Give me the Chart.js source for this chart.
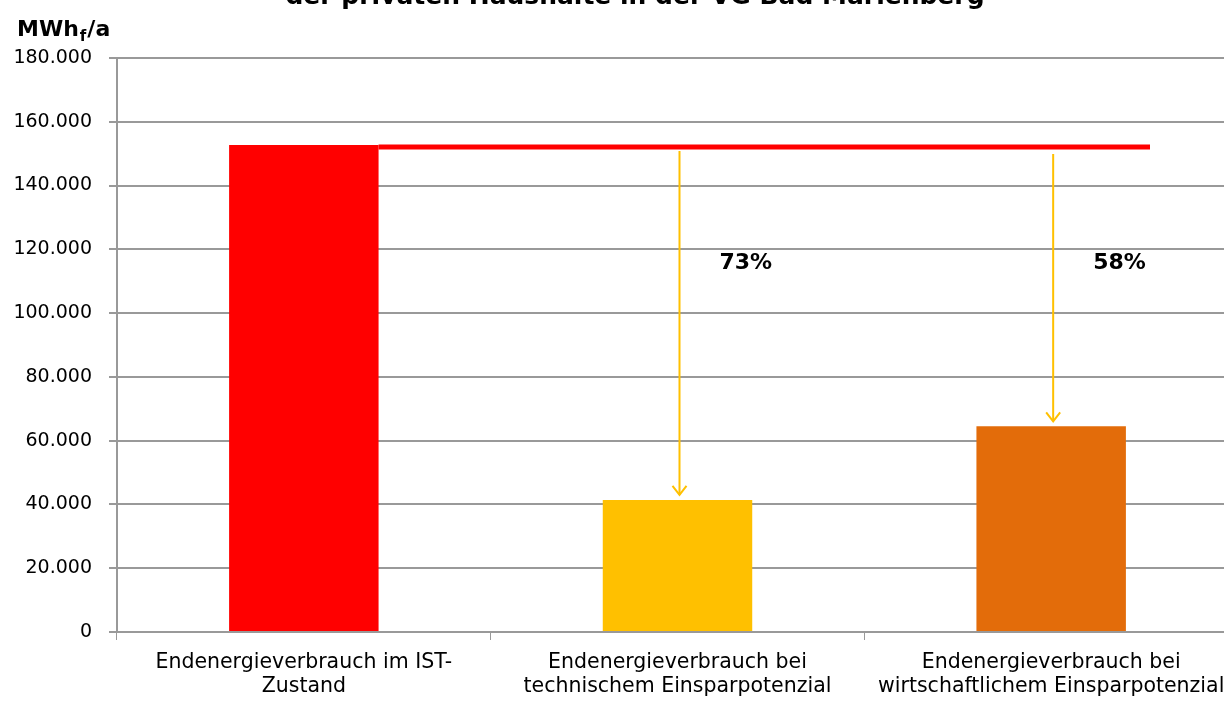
<!DOCTYPE html>
<html lang="de">
<head>
<meta charset="utf-8">
<title>Endenergieverbrauch private Haushalte</title>
<script src="https://cdn.jsdelivr.net/npm/chart.js@4.4.1/dist/chart.umd.min.js"></script>
<style>
  html, body { margin: 0; padding: 0; background: #fff; overflow: hidden; }
  #wrap { width: 1224px; height: 702px; position: relative; overflow: hidden; }
</style>
</head>
<body>
<div id="wrap"><canvas id="chartEnergie" width="1238" height="702"></canvas></div>
<script>
// --- Daten ---
const kategorien = [
  ['Endenergieverbrauch im IST-', 'Zustand'],
  ['Endenergieverbrauch bei', 'technischem Einsparpotenzial'],
  ['Endenergieverbrauch bei', 'wirtschaftlichem Einsparpotenzial']
];
const verbrauch = [152700, 41400, 64500];          // MWh_f/a
const farben = ['#ff0000', '#ffc000', '#e36c0a'];
const yTicks = [0, 20000, 40000, 60000, 80000, 100000, 120000, 140000, 160000, 180000];

const titelZeile = 'der privaten Haushalte in der VG Bad Marienberg';
const FONT = '"DejaVu Sans", Verdana, sans-serif';

// Referenzlinie, Pfeile und Prozentangaben
const einsparPlugin = {
  id: 'einsparung',
  afterDatasetsDraw(chart) {
    const ctx = chart.ctx;
    const y = chart.scales.y;
    const meta = chart.getDatasetMeta(0);
    const basis = verbrauch[0];
    const yBasis = y.getPixelForValue(basis);
    const bar0 = meta.data[0];

    ctx.save();
    // rote Linie vom IST-Balken nach rechts
    ctx.strokeStyle = '#ff0000';
    ctx.lineWidth = 5;
    ctx.beginPath();
    ctx.moveTo(bar0.x + bar0.width / 2, yBasis + 2);
    ctx.lineTo(1150, yBasis + 2);
    ctx.stroke();

    for (let i = 1; i < verbrauch.length; i++) {
      const b = meta.data[i];
      const x = b.x + 2;
      const yTop = yBasis + 6 + (i - 1) * 3;
      const yEnd = y.getPixelForValue(verbrauch[i]) - 5;
      ctx.strokeStyle = '#ffc000';
      ctx.lineWidth = 2;
      ctx.beginPath();
      ctx.moveTo(x, yTop);
      ctx.lineTo(x, yEnd);
      ctx.stroke();
      ctx.beginPath();
      ctx.moveTo(x - 7, yEnd - 9);
      ctx.lineTo(x, yEnd);
      ctx.lineTo(x + 7, yEnd - 9);
      ctx.stroke();

      const prozent = Math.round((1 - verbrauch[i] / basis) * 100);
      ctx.fillStyle = '#000';
      ctx.font = 'bold 22px ' + FONT;
      ctx.textAlign = 'left';
      ctx.textBaseline = 'middle';
      ctx.fillText(prozent + '%', x + 40, y.getPixelForValue(115500));
    }

    // Titel (obere Zeile außerhalb des Bildes)
    ctx.fillStyle = '#000';
    ctx.font = 'bold 25px ' + FONT;
    ctx.textAlign = 'center';
    ctx.textBaseline = 'alphabetic';
    ctx.fillText(titelZeile, 635, 4);

    // Einheit der y-Achse
    ctx.textAlign = 'left';
    ctx.font = 'bold 22px ' + FONT;
    ctx.fillText('MWh', 17, 36);
    let w = ctx.measureText('MWh').width;
    ctx.font = 'bold 15px ' + FONT;
    ctx.fillText('f', 18 + w, 41);
    w += ctx.measureText('f').width + 2;
    ctx.font = 'bold 22px ' + FONT;
    ctx.fillText('/a', 17 + w, 36);
    ctx.restore();
  }
};

new Chart(document.getElementById('chartEnergie'), {
  type: 'bar',
  data: {
    labels: kategorien,
    datasets: [{
      data: verbrauch,
      backgroundColor: farben,
      borderWidth: 0,
      categoryPercentage: 1,
      barPercentage: 0.4
    }]
  },
  options: {
    responsive: false,
    animation: false,
    layout: { padding: { top: 58, right: 0, bottom: 0, left: 0 } },
    plugins: {
      legend: { display: false },
      tooltip: { enabled: false }
    },
    scales: {
      x: {
        grid: {
          offset: true,
          drawOnChartArea: false,
          drawTicks: true,
          tickLength: 8,
          color: '#999',
          lineWidth: 1
        },
        border: { color: '#999', width: 2 },
        ticks: {
          color: '#000',
          font: { family: FONT, size: 20.5 },
          maxRotation: 0,
          autoSkip: false,
          padding: 10
        },
        afterFit(scale) { scale.height = 70; }
      },
      y: {
        min: 0,
        max: 180000,
        afterBuildTicks(scale) { scale.ticks = yTicks.map(v => ({ value: v })); },
        grid: { color: '#999', lineWidth: 2, tickLength: 8 },
        border: { color: '#999', width: 2 },
        ticks: {
          color: '#000',
          font: { family: FONT, size: 19 },
          padding: 17,
          callback: v => v.toLocaleString('de-DE')
        },
        afterFit(scale) { scale.width = 117; }
      }
    }
  },
  plugins: [einsparPlugin]
});
</script>
</body>
</html>
